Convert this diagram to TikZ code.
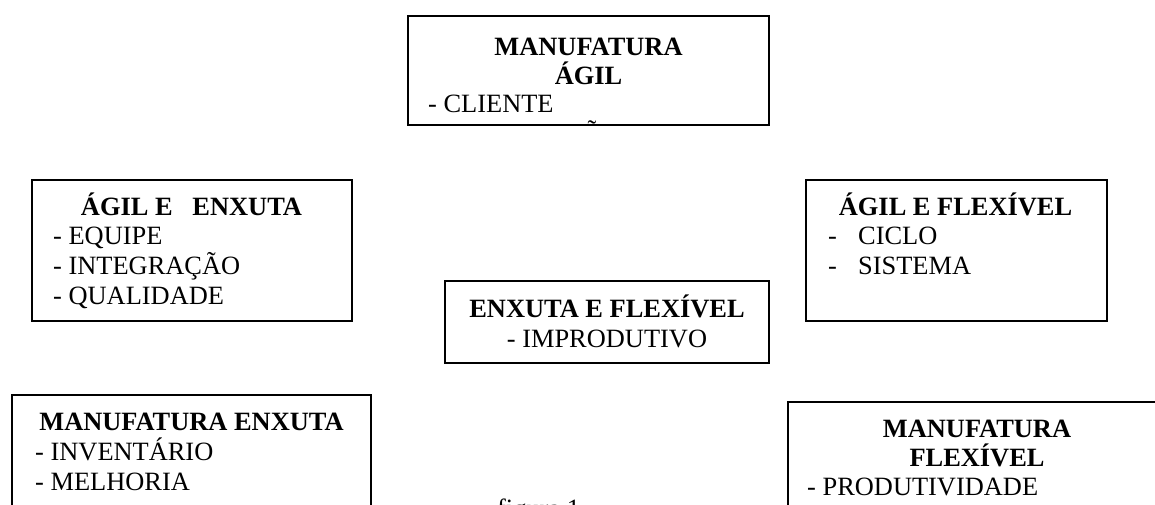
\documentclass[tikz,border=0pt]{standalone}
\usepackage{fontspec}
\setmainfont{Liberation Serif}
\begin{document}
\begin{tikzpicture}[x=1pt,y=-1pt,
  box/.style={draw=black, line width=1.6pt, anchor=north west, inner sep=0pt, outer sep=0pt},
  ttl/.style={font=\fontsize{26.4}{30}\selectfont\bfseries, anchor=base, inner sep=0pt},
  itm/.style={font=\fontsize{26.4}{30}\selectfont, anchor=base west, inner sep=0pt},
  ctr/.style={font=\fontsize{26.4}{30}\selectfont, anchor=base, inner sep=0pt}]
\useasboundingbox (0,0) rectangle (1155,504);
\fill[white] (0,0) rectangle (1155,504);
\clip (0,0) rectangle (1155,504);
% MANUFATURA AGIL
\node[box, minimum width=361pt, minimum height=109pt] (agil) at (408,16) {};
\node[ttl] (agilt1) at (588.5,55) {MANUFATURA};
\node[ttl] (agilt2) at (588.5,84) {ÁGIL};
\node[itm] (agili1) at (428,112) {- CLIENTE};
\node[ctr] (agiltil) at (592,138) {˜};
% AGIL E ENXUTA
\node[box, minimum width=320pt, minimum height=141pt] (ae) at (32,180) {};
\node[ttl] (aet) at (191.5,215) {ÁGIL E~~~ENXUTA};
\node[itm] (aei1) at (53,244) {- EQUIPE};
\node[itm] (aei2) at (53,274) {- INTEGRAÇÃO};
\node[itm] (aei3) at (53,304) {- QUALIDADE};
% AGIL E FLEXIVEL
\node[box, minimum width=301pt, minimum height=141pt] (af) at (806,180) {};
\node[ttl] (aft) at (955.5,215) {ÁGIL E FLEXÍVEL};
\node[itm] (afd1) at (828,244) {-};
\node[itm] (afi1) at (858,244) {CICLO};
\node[itm] (afd2) at (828,274) {-};
\node[itm] (afi2) at (858,274) {SISTEMA};
% ENXUTA E FLEXIVEL
\node[box, minimum width=324pt, minimum height=82pt] (ef) at (445,281) {};
\node[ttl] (eft) at (607,317) {ENXUTA E FLEXÍVEL};
\node[ctr] (efi1) at (607,347) {- IMPRODUTIVO};
% MANUFATURA ENXUTA
\node[box, minimum width=359pt, minimum height=150pt] (me) at (12,395) {};
\node[ttl] (met) at (191.5,430) {MANUFATURA ENXUTA};
\node[itm] (mei1) at (35,460) {- INVENTÁRIO};
\node[itm] (mei2) at (35,490) {- MELHORIA};
% MANUFATURA FLEXIVEL
\node[box, minimum width=420pt, minimum height=150pt] (mf) at (788,402) {};
\node[ttl] (mft1) at (977,437) {MANUFATURA};
\node[ttl] (mft2) at (977,466) {FLEXÍVEL};
\node[itm] (mfi1) at (807,495) {- PRODUTIVIDADE};
% caption (cut off by the lower edge, as in the reference)
\node[itm] (fig) at (497,517) {figura 1};
\end{tikzpicture}
\end{document}
